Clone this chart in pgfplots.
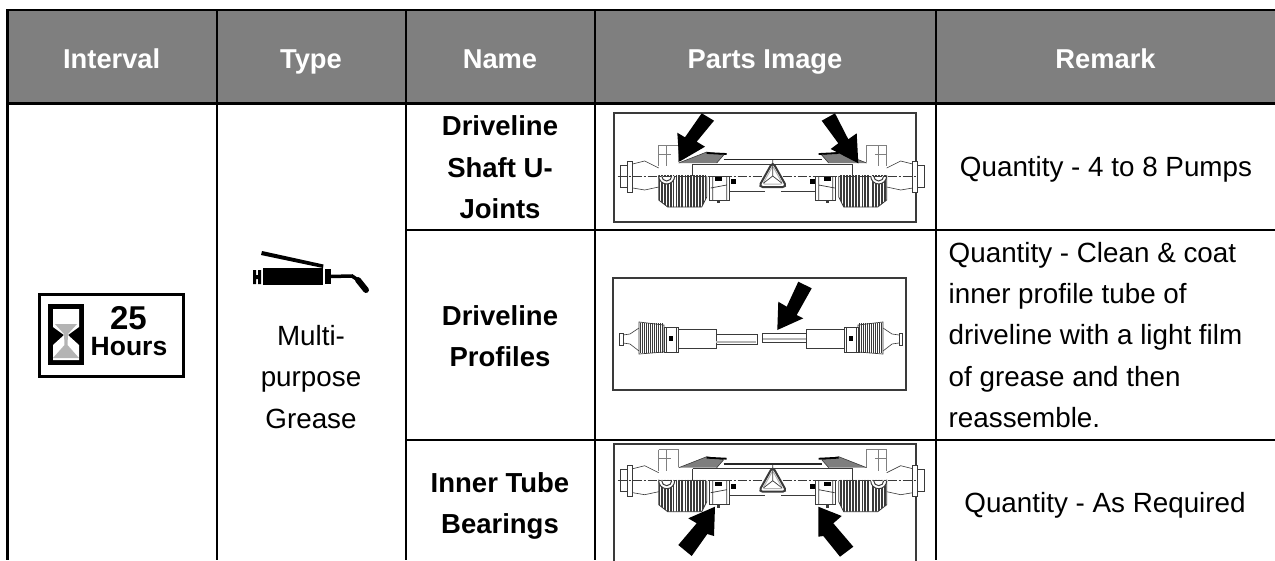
\documentclass[border=0pt]{standalone}
\usepackage{pgfplots}
\pgfplotsset{compat=1.18}
\usepackage{fontspec}
\setmainfont{Liberation Sans}
\definecolor{hdr}{HTML}{7F7F7F}
\definecolor{ink}{HTML}{3A3A3A}
\definecolor{sand}{HTML}{B4B4B4}
\newcommand\txt[4][black]{\node[anchor=base,inner sep=0pt,text=#1] at (axis cs:#2,#3) {\fontsize{27.8}{27}\selectfont #4};}
\newcommand\bol[3]{\node[anchor=base,inner sep=0pt] at (axis cs:#1,#2) {\fontsize{27.5}{27}\selectfont\bfseries #3};}
\newcommand\hd[2]{\node[anchor=base,inner sep=0pt,text=white] at (axis cs:#1,68.3) {\fontsize{27.3}{27}\selectfont\bfseries #2};}
\newcommand\rem[2]{\node[anchor=base west,inner sep=0pt] at (axis cs:948.5,#1) {\fontsize{27.8}{27}\selectfont #2};}
\newcommand\frameimg[4]{\addplot[draw=ink,line width=1.1pt] coordinates {(#1,#2)(#3,#2)(#3,#4)(#1,#4)} --cycle;}
% half of the long shaft, left side, origin at the centre of the shaft
\newcommand\halfshaft{%
  \draw[ink,line width=.6pt] (-152,-11) rectangle (-145,11);
  \draw[ink,line width=1pt,fill=white] (-145,-15) rectangle (-140,16);
  \draw[ink,line width=.6pt] (-140,-12) -- (-128,-15) -- (-114,-8) (-140,12) -- (-128,14) -- (-114,11);
  \draw[gray,line width=.5pt] (-114,-31) -- (-94,-31) -- (-94,-14) (-114,-31) -- (-114,-10) (-106,-31) -- (-106,-10) (-114,-22) -- (-102,-22);
  \fill[sand!70!black] (-94,-13) -- (-66,-24) -- (-49,-21) -- (-56,-13) -- cycle;
  \draw[ink,line width=.6pt] (-94,-13) -- (-66,-24) -- (-49,-21) -- (-56,-13);
  \draw[black,line width=1.8pt] (-66,-23) -- (-46,-22);
  \draw[black!85,line width=1.8pt] (-49,-16.5) -- (0,-16.5);
  \draw[ink,line width=.7pt] (-80,-12) -- (0,-12);
  \begin{scope}
  \clip (-114,-1) -- (-114,24) -- (-105,31) -- (-71,31) -- (-66,21) -- (-66,-1) -- cycle;
  \pgfplotsinvokeforeach{-113,-111.5,-110,-108.5,-107,-105.5,-104,-102.5,-101,-99.5,-96,-94.5,-93,-91.5,-90,-87,-85.5,-84,-82.5,-81,-79.5,-78,-76.5,-75,-73.5,-72,-70.5,-69,-67.5}{%
    \draw[ink,line width=.7pt] (##1,-1) -- (##1,32);}
  \end{scope}
  \draw[ink,line width=.8pt] (-114,-1) -- (-114,24) -- (-105,31) -- (-71,31) -- (-66,21) -- (-66,0);
  \draw[ink,line width=1pt,fill=white] (-114,0) arc[start angle=180,end angle=0,radius=8];
  \draw[ink,line width=1pt] (-111,0) arc[start angle=180,end angle=0,radius=5];
  \draw[ink,line width=.7pt,fill=white] (-63,0) rectangle (-43,24);
  \draw[ink,line width=.7pt] (-62,12) -- (-46,9) (-60,0) -- (-60,24) (-46,0) -- (-46,24);
  \fill[black] (-58,1) rectangle (-51,5);
  \fill[ink] (-56,24) rectangle (-53,27);
  \fill[black] (-42,3) rectangle (-37,8);
  \draw[ink,line width=.6pt] (-43,15) -- (-8,15);
  \draw[ink,line width=.6pt] (-80,-12) -- (-80,0);
}
\newcommand\fullshaft[2]{%
  \begin{scope}[xshift=#1pt,yshift=-#2pt]\halfshaft\end{scope}
  \begin{scope}[xshift=#1pt,yshift=-#2pt,xscale=-1]\halfshaft\end{scope}
  \begin{scope}[xshift=#1pt,yshift=-#2pt]
  \draw[ink,line width=.5pt,dash pattern=on 9pt off 2pt on 2pt off 2pt] (-155,0) -- (143,0);
  \draw[ink,line width=2pt,fill=white,rounded corners=4pt] (0,-14) -- (14,11) -- (-14,11) -- cycle;
  \draw[sand,line width=1pt,rounded corners=2pt] (0,-10) -- (10,8) -- (-10,8) -- cycle;
  \draw[ink,line width=.7pt] (0,0) -- (0,-16) (0,0) -- (9,7) (0,0) -- (-9,7);
  \end{scope}
}
\newcommand\smallhalf{%
  \draw[ink,line width=.8pt] (-141.7,-6) rectangle (-138,6);
  \draw[ink,line width=.6pt] (-138,-4) -- (-131,-5) -- (-122,-11) (-138,4) -- (-131,5) -- (-122,12);
  \draw[ink,line width=.7pt,fill=white] (-122,-17) -- (-97,-14) -- (-97,13) -- (-122,15) -- cycle;
  \pgfplotsinvokeforeach{-120.5,-118.5,-116.5,-114.5,-112.5,-110.5,-108.5,-106.5,-104.5,-102.5,-100.5,-98.5}{%
    \draw[ink,line width=.8pt] (##1,-16) -- (##1,14);}
  \draw[ink,line width=.6pt,fill=white] (-97,-12) rectangle (-83,13);
  \draw[ink,line width=1pt] (-95,-12) -- (-95,13) (-85,-12) -- (-85,13);
  \fill[black] (-92,-3) rectangle (-88,2);
  \draw[ink,line width=.6pt,fill=white] (-83,-10) rectangle (-45,9);
}
\begin{document}
\begin{tikzpicture}
\begin{axis}[
  hide axis, scale only axis, width=1275pt, height=560pt,
  xmin=0, xmax=1275, ymin=0, ymax=560, y dir=reverse,
  clip=true, enlargelimits=false,
]
\addplot[fill=white,draw=none] coordinates {(0,0)(1275,0)(1275,560)(0,560)} --cycle;
\addplot[fill=hdr,draw=none] coordinates {(7.5,10)(1275,10)(1275,103.5)(7.5,103.5)} --cycle;
% table rules
\addplot[black,line width=2.2pt] coordinates {(6.4,10)(1275,10)};
\addplot[black,line width=2.2pt] coordinates {(6.4,103.5)(1275,103.5)};
\addplot[black,line width=2.2pt] coordinates {(405,230)(1275,230)};
\addplot[black,line width=2.2pt] coordinates {(405,440)(1275,440)};
\addplot[black,line width=2.2pt] coordinates {(7.5,10)(7.5,560)};
\addplot[black,line width=2.2pt] coordinates {(217,10)(217,560)};
\addplot[black,line width=2.2pt] coordinates {(406,10)(406,560)};
\addplot[black,line width=2.2pt] coordinates {(595,10)(595,560)};
\addplot[black,line width=2.2pt] coordinates {(936,10)(936,560)};
% header
\hd{111.7}{Interval}
\hd{311}{Type}
\hd{500}{Name}
\hd{765}{Parts Image}
\hd{1105.5}{Remark}
% 25 hours icon
\addplot[draw=black,fill=white,line width=3pt] coordinates {(39,294.5)(183.5,294.5)(183.5,376)(39,376)} --cycle;
\addplot[fill=black,draw=none] coordinates {(48,304)(84,304)(84,365)(48,365)} --cycle;
\addplot[fill=white,draw=none] coordinates {(53,309)(79,309)(79,327)(68,335)(79,345)(79,360)(53,360)(53,345)(64,335)(53,327)} --cycle;
\addplot[fill=sand,draw=none] coordinates {(55,324)(77,324)(68,334)(67.5,345)(79,358)(53,358)(64.5,345)(64,334)} --cycle;
\node[anchor=base,inner sep=0pt] at (axis cs:128.5,329.5) {\fontsize{33}{33}\selectfont\bfseries 25};
\node[anchor=base,inner sep=0pt] at (axis cs:129,355) {\fontsize{26.5}{27}\selectfont\bfseries Hours};
% grease gun
\addplot[fill=black,draw=none] coordinates {(263,268)(323,268)(323,285)(263,285)} --cycle;
\addplot[fill=black,draw=none] coordinates {(262,251)(323.5,264.5)(323,268)(261,255)} --cycle;
\addplot[fill=black,draw=none] coordinates {(253,270)(256,270)(256,275)(258,275)(258,270)(261,270)(261,284)(258,284)(258,279)(256,279)(256,284)(253,284)} --cycle;
\addplot[fill=black,draw=none] coordinates {(325,269)(331,269)(331,284)(325,284)} --cycle;
\addplot[black,line width=3.5pt] coordinates {(330,276.5)(352,276)(358,280)};
\addplot[black,line width=6pt,line cap=round] coordinates {(358,280)(366,290)};
% type and name columns
\txt{311}{345}{Multi-}
\txt{311}{386.7}{purpose}
\txt{311}{428.3}{Grease}
\bol{500}{135.3}{Driveline}
\bol{500}{177.3}{Shaft U-}
\bol{500}{218.5}{Joints}
\bol{500}{325}{Driveline}
\bol{500}{366}{Profiles}
\bol{500}{492.7}{Inner Tube}
\bol{500}{533}{Bearings}
% remarks
\txt{1106}{176.5}{Quantity - 4 to 8 Pumps}
\txt{1105}{512}{Quantity - As Required}
\rem{262}{Quantity - Clean \& coat}
\rem{303.4}{inner profile tube of}
\rem{344.8}{driveline with a light film}
\rem{386.2}{of grease and then}
\rem{427.2}{reassemble.}
% image 1
\frameimg{614}{113}{916}{222}
\fullshaft{772.7}{176}
\addplot[fill=black,draw=none] coordinates {(679.3,161.7)(677.3,132.7)(685,137.3)(701.7,113.3)(714,120.7)(696.7,141.7)(705,146.7)} --cycle;
\addplot[fill=black,draw=none] coordinates {(858.3,163.3)(856.7,133.3)(848.3,139.3)(835,113.3)(821.7,120.7)(838.3,143.3)(830.7,149)} --cycle;
% image 2
\frameimg{613}{278}{906}{390}
\begin{scope}[xshift=761pt,yshift=-339pt]\smallhalf
\draw[ink,line width=.7pt] (-45,-5) -- (-4,-5) -- (-4,5) -- (-45,5);
\draw[sand,line width=1.2pt] (-45,3) -- (-5,3);
\draw[ink,line width=.7pt] (1,-6) -- (45,-6) (1,3) -- (45,3) (1,-6) -- (1,3);
\draw[sand,line width=1.2pt] (2,0) -- (45,0);
\end{scope}
\begin{scope}[xshift=761pt,yshift=-339pt,xscale=-1]\smallhalf\end{scope}
\addplot[fill=black,draw=none] coordinates {(777.3,330)(778.3,301.7)(786.7,306.7)(798.3,281.7)(811.7,288.3)(796.7,315)(803.3,318.3)} --cycle;
% image 3
\frameimg{614}{444}{916}{575}
\fullshaft{772.7}{480.7}
\addplot[fill=black,draw=none] coordinates {(715,506.7)(688.3,518.3)(696.7,523.3)(678.3,545)(691.7,556)(707.3,534)(714,536)} --cycle;
\addplot[fill=black,draw=none] coordinates {(818.3,506.7)(841.7,516)(833.3,523.3)(853.3,546.7)(840,556.7)(823.3,536)(818.3,536.7)} --cycle;
\end{axis}
\end{tikzpicture}
\end{document}
